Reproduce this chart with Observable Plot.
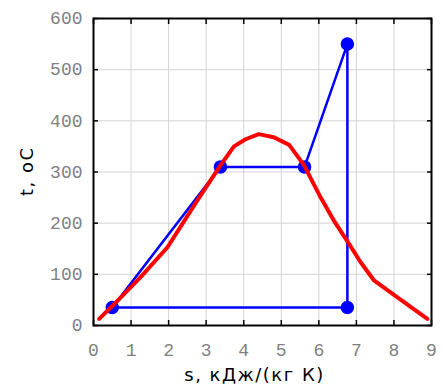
<!DOCTYPE html>
<html>
<head>
<meta charset="utf-8">
<script src="https://cdn.jsdelivr.net/npm/d3@7"></script>
<script src="https://cdn.jsdelivr.net/npm/@observablehq/plot@0.6"></script>
<style>
  html, body { margin: 0; padding: 0; background: #fff; }
  #chart { width: 443px; height: 391px; }
</style>
</head>
<body>
<div id="chart"></div>
<script>
// Rankine cycle (blue)
const cycleS = [0.5, 3.38, 5.62, 6.76, 6.76, 0.5];
const cycleT = [35, 310, 310, 550, 35, 35];
const markerS = [0.5, 3.38, 5.62, 6.76, 6.76];
const markerT = [35, 310, 310, 550, 35];
// Saturation curve (red)
const satS = [0.15, 0.5, 1.26, 1.97, 2.77, 3.39, 3.74, 4.05, 4.4, 4.8, 5.21, 5.6, 6.05, 6.4, 6.8, 7.1, 7.47, 8.0, 8.89];
const satT = [13, 38, 95, 153, 245, 314, 350, 364, 374, 368, 353, 314, 250, 205, 160, 125, 88, 60, 13];

const xTicks = [0,1,2,3,4,5,6,7,8,9];
const yTicks = [0,100,200,300,400,500,600];

const cycle = cycleS.map((s,i) => ({s, t: cycleT[i]}));
const markers = markerS.map((s,i) => ({s, t: markerT[i]}));
const sat = satS.map((s,i) => ({s, t: satT[i]}));

const font = "'Liberation Mono', monospace";
const labelFont = "'DejaVu Sans', sans-serif";

const plot = Plot.plot({
  width: 443,
  height: 391,
  marginLeft: 93,
  marginRight: 12,
  marginTop: 18,
  marginBottom: 66,
  style: {fontFamily: font, fontSize: "18px", color: "#808080", background: "#fff"},
  x: {domain: [0, 9], ticks: xTicks},
  y: {domain: [0, 600], ticks: yTicks},
  marks: [
    Plot.gridX(xTicks, {stroke: "#d4d4d4", strokeOpacity: 1, strokeWidth: 1}),
    Plot.gridY(yTicks, {stroke: "#d4d4d4", strokeOpacity: 1, strokeWidth: 1}),
    Plot.axisX(xTicks, {anchor: "bottom", tickSize: 0, tickPadding: 18, fill: "#808080", label: null, fontSize: 18}),
    Plot.axisY(yTicks, {anchor: "left", tickSize: 0, tickPadding: 11, fill: "#808080", label: null, fontSize: 18}),
    Plot.axisX(xTicks, {anchor: "bottom", tickSize: -5, tickFormat: () => "", label: null, stroke: "#000", strokeWidth: 1.5}),
    Plot.axisX(xTicks, {anchor: "top", tickSize: -5, tickFormat: () => "", label: null, stroke: "#000", strokeWidth: 1.5}),
    Plot.axisY(yTicks, {anchor: "left", tickSize: -5, tickFormat: () => "", label: null, stroke: "#000", strokeWidth: 1.5}),
    Plot.axisY(yTicks, {anchor: "right", tickSize: -5, tickFormat: () => "", label: null, stroke: "#000", strokeWidth: 1.5}),
    Plot.frame({stroke: "#000", strokeWidth: 2}),
    Plot.line(cycle, {x: "s", y: "t", stroke: "#0000ff", strokeWidth: 2.5}),
    Plot.dot(markers, {x: "s", y: "t", r: 6, fill: "#0000ff", stroke: "#0000ff"}),
    Plot.line(sat, {x: "s", y: "t", stroke: "#ff0000", strokeWidth: 4}),
    Plot.text(["s, кДж/(кг К)"], {frameAnchor: "bottom", dx: -8, dy: 55, fontSize: 18, fill: "#000", fontFamily: labelFont}),
    Plot.text(["t, oC"], {frameAnchor: "left", dx: -66, dy: 24, rotate: -90, fontSize: 18, fill: "#000", fontFamily: labelFont})
  ]
});
document.getElementById("chart").appendChild(plot);
// letter spacing for axis labels
plot.querySelectorAll("text").forEach(t => {
  if (t.textContent === "s, кДж/(кг К)" || t.textContent === "t, oC") t.setAttribute("letter-spacing", "1.5");
});
</script>
</body>
</html>
